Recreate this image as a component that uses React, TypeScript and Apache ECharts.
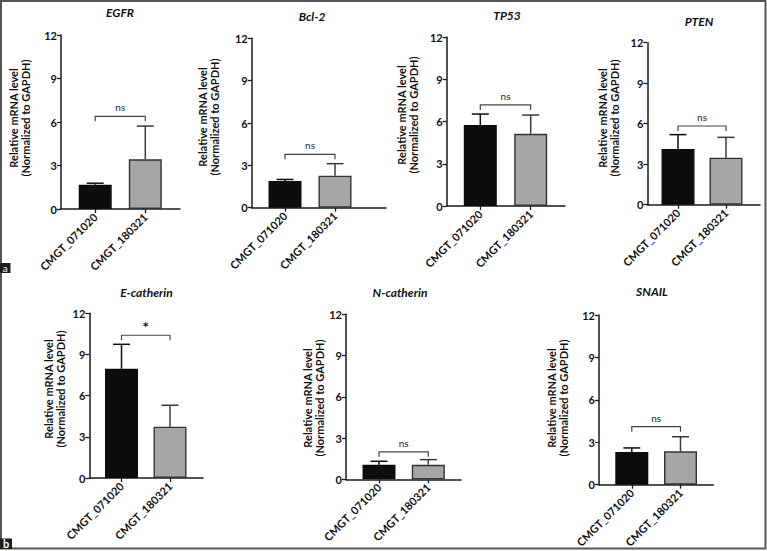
import React, { useEffect, useRef } from "react";
import * as echarts from "echarts";

// Cell lines compared in every panel
const groups = ["CMGT_071020", "CMGT_180321"];
// Genes, one panel each
const genes = ["EGFR", "Bcl-2", "TP53", "PTEN", "E-catherin", "N-catherin", "SNAIL"];
// Mean relative mRNA level (normalized to GAPDH), per gene: [071020, 180321]
const means = [
  [1.67, 3.43],
  [1.89, 2.27],
  [5.76, 5.14],
  [4.13, 3.48],
  [7.96, 3.74],
  [1.06, 1.06],
  [2.31, 2.36],
];
// Standard deviation (upper error bar), per gene
const sds = [
  [0.11, 2.29],
  [0.11, 0.85],
  [0.78, 1.33],
  [1.06, 1.51],
  [1.78, 1.56],
  [0.25, 0.37],
  [0.29, 1.03],
];
// Height of the comparison bracket and its annotation
const bracketLevels = [6.39, 3.78, 7.19, 5.83, 10.4, 2.0, 4.1];
const significance = ["ns", "ns", "ns", "ns", "*", "ns", "ns"];
// Y axis ticks
const yTicks = [0, 3, 6, 9, 12];
// Y axis title, two lines
const yTitleLines = ["Relative mRNA level", "(Normalized to GAPDH)"];

// Panel geometry in pixels: axis origin/extent, bar centres, title and y-label anchors
const layout = [
  { left: 61, top: 35, end: 180, bottom: 209, c1: 95.2, c2: 145.3, tx: 120, ty: 12, lx: 19, ly: 118 },
  { left: 251.7, top: 38.3, end: 386, bottom: 207.7, c1: 285, c2: 335, tx: 312, ty: 16, lx: 208.7, ly: 117 },
  { left: 446.7, top: 37.3, end: 565, bottom: 206, c1: 480.3, c2: 530.7, tx: 507, ty: 15, lx: 407, ly: 115 },
  { left: 647.3, top: 42.7, end: 760, bottom: 204.7, c1: 678, c2: 726, tx: 699, ty: 21, lx: 608, ly: 118 },
  { left: 89.3, top: 313.3, end: 203, bottom: 478, c1: 121.5, c2: 170, tx: 146.5, ty: 292, lx: 54.5, ly: 389 },
  { left: 346, top: 314.3, end: 461, bottom: 479.3, c1: 379, c2: 428.3, tx: 400, ty: 292, lx: 313, ly: 398 },
  { left: 599, top: 315, end: 713.3, bottom: 484.7, c1: 631.8, c2: 680.5, tx: 652, ty: 291, lx: 557, ly: 398 },
];

const FONT = 'Lato, "Open Sans", "DejaVu Sans", sans-serif';
const AXIS = "#1a1a1a";
const BAR_COLORS = ["#0d0d0d", "#a6a6a6"];
const ERR_COLORS = ["#0d0d0d", "#3a3a3a"];

function buildOption() {
  const grids: any[] = [];
  const xAxes: any[] = [];
  const yAxes: any[] = [];
  const series: any[] = [];
  const graphics: any[] = [];
  const n = genes.length;

  genes.forEach((gene, i) => {
    const L = layout[i];
    const span = L.c2 - L.c1;
    const gridLeft = L.c1 - span / 2;
    // plotting grid: one band per cell line
    grids.push({
      left: gridLeft,
      top: L.top,
      width: span * 2,
      height: L.bottom - L.top,
      containLabel: false,
    });
    xAxes.push({
      gridIndex: i,
      type: "category",
      data: groups,
      boundaryGap: true,
      axisLine: { show: false },
      axisTick: { show: true, alignWithLabel: true, length: 4, lineStyle: { color: AXIS, width: 1.3 } },
      axisLabel: {
        rotate: 45,
        interval: 0,
        margin: 6,
        color: "#111",
        fontFamily: FONT,
        fontWeight: "bold",
        fontSize: 11,
      },
    });
    yAxes.push({
      gridIndex: i,
      type: "value",
      offset: gridLeft - L.left,
      min: yTicks[0],
      max: yTicks[yTicks.length - 1],
      interval: yTicks[1] - yTicks[0],
      splitLine: { show: false },
      axisLine: { show: true, onZero: false, lineStyle: { color: AXIS, width: 1.5 } },
      axisTick: { show: true, length: 4, lineStyle: { color: AXIS, width: 1.3 } },
      axisLabel: {
        margin: 4,
        color: "#111",
        fontFamily: FONT,
        fontWeight: "bold",
        fontSize: 11,
      },
    });

    // Bars
    series.push({
      type: "bar",
      xAxisIndex: i,
      yAxisIndex: i,
      barWidth: 33,
      data: means[i].map((m, k) => ({
        value: m,
        itemStyle: {
          color: BAR_COLORS[k],
          borderColor: k === 0 ? "#0d0d0d" : "#333",
          borderWidth: 1.4,
        },
      })),
      z: 2,
    });

    // Upper error bars (mean + SD)
    series.push({
      type: "custom",
      xAxisIndex: i,
      yAxisIndex: i,
      data: means[i].map((m, k) => [k, m, sds[i][k]]),
      encode: { x: 0, y: 1 },
      z: 3,
      renderItem: (params: any, api: any) => {
        const x = api.value(0);
        const m = api.value(1);
        const s = api.value(2);
        const base = api.coord([x, m]);
        const top = api.coord([x, m + s]);
        const color = ERR_COLORS[params.dataIndex];
        return {
          type: "group",
          children: [
            {
              type: "line",
              shape: { x1: base[0], y1: base[1], x2: top[0], y2: top[1] },
              style: { stroke: color, lineWidth: 1.5 },
            },
            {
              type: "line",
              shape: { x1: top[0] - 8.5, y1: top[1], x2: top[0] + 8.5, y2: top[1] },
              style: { stroke: color, lineWidth: 1.5 },
            },
          ],
        };
      },
    });

    // Significance bracket
    series.push({
      type: "custom",
      xAxisIndex: i,
      yAxisIndex: i,
      data: [[0, 1, bracketLevels[i]]],
      encode: { x: [0, 1], y: 2 },
      z: 4,
      renderItem: (_params: any, api: any) => {
        const lvl = api.value(2);
        const p1 = api.coord([api.value(0), lvl]);
        const p2 = api.coord([api.value(1), lvl]);
        const star = significance[i] === "*";
        return {
          type: "group",
          children: [
            {
              type: "polyline",
              shape: {
                points: [
                  [p1[0], p1[1] + 5],
                  [p1[0], p1[1]],
                  [p2[0], p2[1]],
                  [p2[0], p2[1] + 5],
                ],
              },
              style: { stroke: "#444", lineWidth: 1.2, fill: "none" },
            },
            {
              type: "text",
              x: (p1[0] + p2[0]) / 2,
              y: p1[1] - (star ? 1 : 4),
              style: {
                text: significance[i],
                align: "center",
                verticalAlign: "bottom",
                fill: "#222",
                font: star ? `bold 16px ${FONT}` : `10px ${FONT}`,
              },
            },
          ],
        };
      },
    });

    // Panel title
    graphics.push({
      type: "text",
      x: L.tx,
      y: L.ty,
      style: {
        text: gene,
        align: "center",
        verticalAlign: "middle",
        fill: "#111",
        font: `italic bold 12px ${FONT}`,
      },
    });
    // Y axis title, one rotated text per line
    yTitleLines.forEach((line, j) => {
      graphics.push({
        type: "text",
        x: L.lx + (j - 0.5) * 12,
        y: L.ly,
        rotation: Math.PI / 2,
        style: {
          text: line,
          align: "center",
          verticalAlign: "middle",
          fill: "#111",
          font: `bold 11px ${FONT}`,
        },
      });
    });
  });

  // Baseline grids: full-width x axis line from the y axis to the panel's right end
  genes.forEach((_gene, i) => {
    const L = layout[i];
    grids.push({
      left: L.left,
      top: L.top,
      width: L.end - L.left,
      height: L.bottom - L.top,
      containLabel: false,
    });
    xAxes.push({
      gridIndex: n + i,
      type: "value",
      min: 0,
      max: 1,
      splitLine: { show: false },
      axisLine: { show: true, onZero: false, lineStyle: { color: AXIS, width: 1.5 } },
      axisTick: { show: false },
      axisLabel: { show: false },
    });
    yAxes.push({
      gridIndex: n + i,
      type: "value",
      show: false,
      min: 0,
      max: 1,
    });
  });

  // Figure frame and part labels
  graphics.push({
    type: "rect",
    shape: { x: 1, y: 1, width: 764.5, height: 547.5 },
    style: { fill: "none", stroke: "#555", lineWidth: 2 },
  });
  graphics.push({
    type: "rect",
    shape: { x: 0, y: 263, width: 10.5, height: 10 },
    style: { fill: "#1c1c1c" },
  });
  graphics.push({
    type: "text",
    x: 5.3,
    y: 268,
    style: { text: "a", align: "center", verticalAlign: "middle", fill: "#fff", font: `10px ${FONT}` },
  });
  graphics.push({
    type: "rect",
    shape: { x: 0, y: 538.5, width: 12, height: 10.5 },
    style: { fill: "#1c1c1c" },
  });
  graphics.push({
    type: "text",
    x: 6,
    y: 543.8,
    style: { text: "b", align: "center", verticalAlign: "middle", fill: "#fff", font: `bold 11px ${FONT}` },
  });

  return {
    animation: false,
    grid: grids,
    xAxis: xAxes,
    yAxis: yAxes,
    series,
    graphic: graphics,
  };
}

export default function App() {
  const ref = useRef<HTMLDivElement>(null);
  useEffect(() => {
    document.body.style.margin = "0";
    const chart = echarts.init(ref.current!, null, { renderer: "svg" });
    chart.setOption(buildOption());
    return () => chart.dispose();
  }, []);
  return (
    <div
      ref={ref}
      style={{ position: "absolute", left: 0, top: 0, width: 767, height: 551, background: "#fff" }}
    />
  );
}
